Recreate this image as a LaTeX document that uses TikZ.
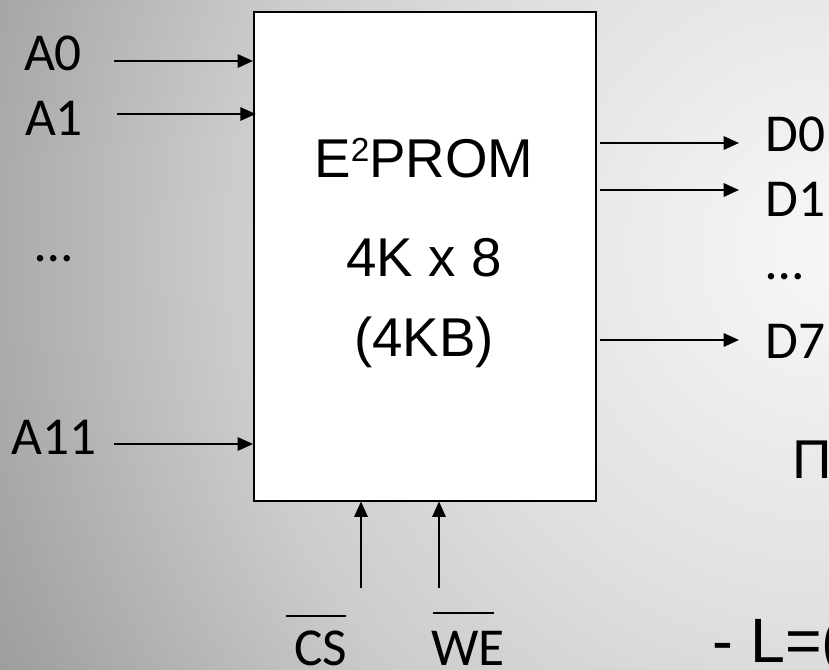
\documentclass[tikz,border=0pt]{standalone}
\usepackage{fontspec}
\setmainfont{Carlito}
\newfontfamily\arialfont{Liberation Sans}
\usetikzlibrary{arrows.meta}

\definecolor{bga}{RGB}{246,246,246}
\definecolor{bgb}{RGB}{243,243,243}
\definecolor{bgc}{RGB}{224,224,224}
\definecolor{bgd}{RGB}{204,204,204}
\definecolor{bge}{RGB}{168,168,168}
\definecolor{bgf}{RGB}{156,156,156}
\pgfdeclareradialshading{slidebg}{\pgfpoint{0bp}{0bp}}{color(0bp)=(bga); color(1.8bp)=(bgb); color(9.25bp)=(bgc); color(15bp)=(bgd); color(21.25bp)=(bge); color(23.5bp)=(bgf); color(50bp)=(bgf)}

\begin{document}
\begin{tikzpicture}[x=0.75pt,y=-0.75pt,
    sig/.style={line width=1.5pt,-{Triangle[length=11.5pt,width=10pt]}},
    bar/.style={line width=1.5pt},
    pin/.style={font=\fontsize{40}{48}\selectfont,inner sep=0pt,anchor=base},
    chip/.style={font=\arialfont\fontsize{41}{49}\selectfont,inner sep=0pt,anchor=base}]
    \useasboundingbox (0,0) rectangle (829,669);
    \begin{scope}
        \clip (0,0) rectangle (829,669);
        \fill[bgf] (0,0) rectangle (829,669);
        \shade[shading=slidebg] (830,250) circle (1000);
    \end{scope}

    % memory block
    \node (mem) [draw,fill=white,line width=1.5pt,inner sep=0pt,
        minimum width=256.5pt,minimum height=366.75pt] at (425,256) {};
    \node[chip] (name) at (424,177) {E\raisebox{12pt}{\fontsize{25}{25}\selectfont 2}PROM};
    \node[chip] (size) at (424,276) {4K x 8};
    \node[chip] (bytes) at (424,356) {(4KB)};

    % address lines
    \node[pin] (a0) at (53,70) {A0};
    \node[pin] (a1) at (54,135) {A1};
    \node[pin] (adots) at (54,261) {\ldots};
    \node[pin] (a11) at (54,454) {A11};
    \coordinate (a0s) at (114,61);
    \coordinate (a1s) at (117,114);
    \coordinate (a11s) at (114,444);
    \draw[sig] (a0s) -- (a0s -| mem.west);
    \draw[sig] (a1s) -- ([xshift=2pt]a1s -| mem.west);
    \draw[sig] (a11s) -- (a11s -| mem.west);

    % data lines
    \foreach \n/\y in {0/143,1/190,7/340}{
        \coordinate (d\n e) at (739,\y);
        \draw[sig] ([xshift=2pt]mem.east |- d\n e) -- (d\n e);
    }
    \node[pin,anchor=base west] (d0) at (765,151) {D0};
    \node[pin,anchor=base west] (d1) at (765,216) {D1};
    \node[pin,anchor=base west] (ddots) at (766,279) {\ldots};
    \node[pin,anchor=base west] (d7) at (765,358) {D7};

    % control lines
    \coordinate (css) at (361,588);
    \coordinate (wes) at (439,588);
    \draw[sig] (css) -- (css |- mem.south);
    \draw[sig] (wes) -- (wes |- mem.south);
    \node[pin] (cs) at (321,665) {CS};
    \node[pin] (we) at (468,665) {WE};
    \draw[bar] (286,616) -- (346,616);
    \draw[bar] (433,613) -- (494,613);

    % cut-off slide text
    \node[anchor=base west,inner sep=0pt,font=\arialfont\fontsize{41}{49}\selectfont] (pi) at (792,478) {Π};
    \node[anchor=base west,inner sep=0pt,font=\arialfont\fontsize{47}{56}\selectfont] (eq) at (712,662) {- L=(};
\end{tikzpicture}
\end{document}
